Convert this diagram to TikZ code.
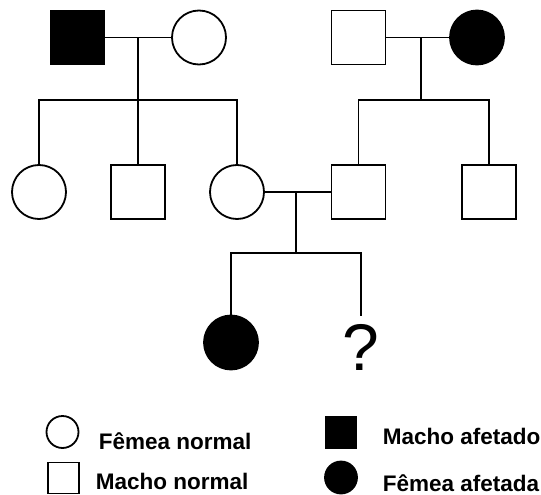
\documentclass[tikz,border=0pt]{standalone}
\usepackage{fontspec}
\setmainfont{Liberation Sans}
\usepackage{xcolor}
\usetikzlibrary{positioning}
\definecolor{affected}{RGB}{0,0,0}
\definecolor{normal}{RGB}{255,255,255}
\begin{document}
\begin{tikzpicture}[x=1pt,y=-1pt,line width=1.8pt,
  male/.style={draw=black,fill=normal,rectangle,minimum size=54pt,inner sep=0pt},
  female/.style={draw=black,fill=normal,circle,minimum size=54pt,inner sep=0pt},
  maleaff/.style={male,fill=affected},
  femaleaff/.style={female,fill=affected},
  keymale/.style={draw=black,fill=normal,rectangle,minimum size=31pt,inner sep=0pt},
  keyfemale/.style={draw=black,fill=normal,circle,minimum size=32pt,inner sep=0pt},
  keytext/.style={anchor=base west,inner sep=0pt,font=\fontsize{22.5}{26}\selectfont\bfseries}]
\useasboundingbox (0,0) rectangle (541,495);
% Generation I
\node[maleaff] (gIa) at (77.5,37.5) {}; % affected father
\node[female] (gIb) at (199,37.5) {};
\node[male] (gIc) at (358.5,37.5) {};
\node[femaleaff] (gId) at (477,37.5) {}; % affected mother
\coordinate (mA) at (138,37.5);
\coordinate (sA) at (138,100);
\coordinate (mB) at (421,37.5);
\coordinate (sB) at (421,100);
\draw (gIa.east) -- (gIb.west);
\draw (gIc.east) -- (gId.west);
\draw (mA) -- (sA);
\draw (mB) -- (sB);
% Generation II
\node[female] (gIIa) at (39,192) {};
\node[male] (gIIb) at (138,192) {};
\node[female] (gIIc) at (237,192) {};
\node[male] (gIId) at (358.5,192) {};
\node[male] (gIIe) at (489,192) {};
\draw (gIIa.north) |- (sA);
\draw (gIIb.north) -- (sA);
\draw (gIIc.north) |- (sA);
\draw (gIId.north) |- (sB);
\draw (gIIe.north) |- (sB);
\coordinate (mC) at (296,192);
\coordinate (sC) at (296,253);
\draw (gIIc.east) -- (gIId.west);
\draw (mC) -- (sC);
% Generation III
\node[femaleaff] (gIIIa) at (231,342.5) {};
\node[inner sep=0pt,font=\fontsize{66}{70}\selectfont] (q) at (361,347.5) {?};
\draw (gIIIa.north) |- (sC);
\draw ([yshift=8pt]q.north) |- (sC);
% Legend
\node[keyfemale] (kfn) at (62.5,432) {};
\node[keymale] (kmn) at (63.5,478) {};
\node[keymale,fill=affected] (kma) at (341,432.5) {};
\node[keyfemale,fill=affected] (kfa) at (341,477.5) {};
\node[keytext] (tfn) at (98,449) {Fêmea normal};
\node[keytext] (tmn) at (95,489) {Macho normal};
\node[keytext] (tma) at (382,444) {Macho afetado};
\node[keytext] (tfa) at (382,491) {Fêmea afetada};
\end{tikzpicture}
\end{document}
